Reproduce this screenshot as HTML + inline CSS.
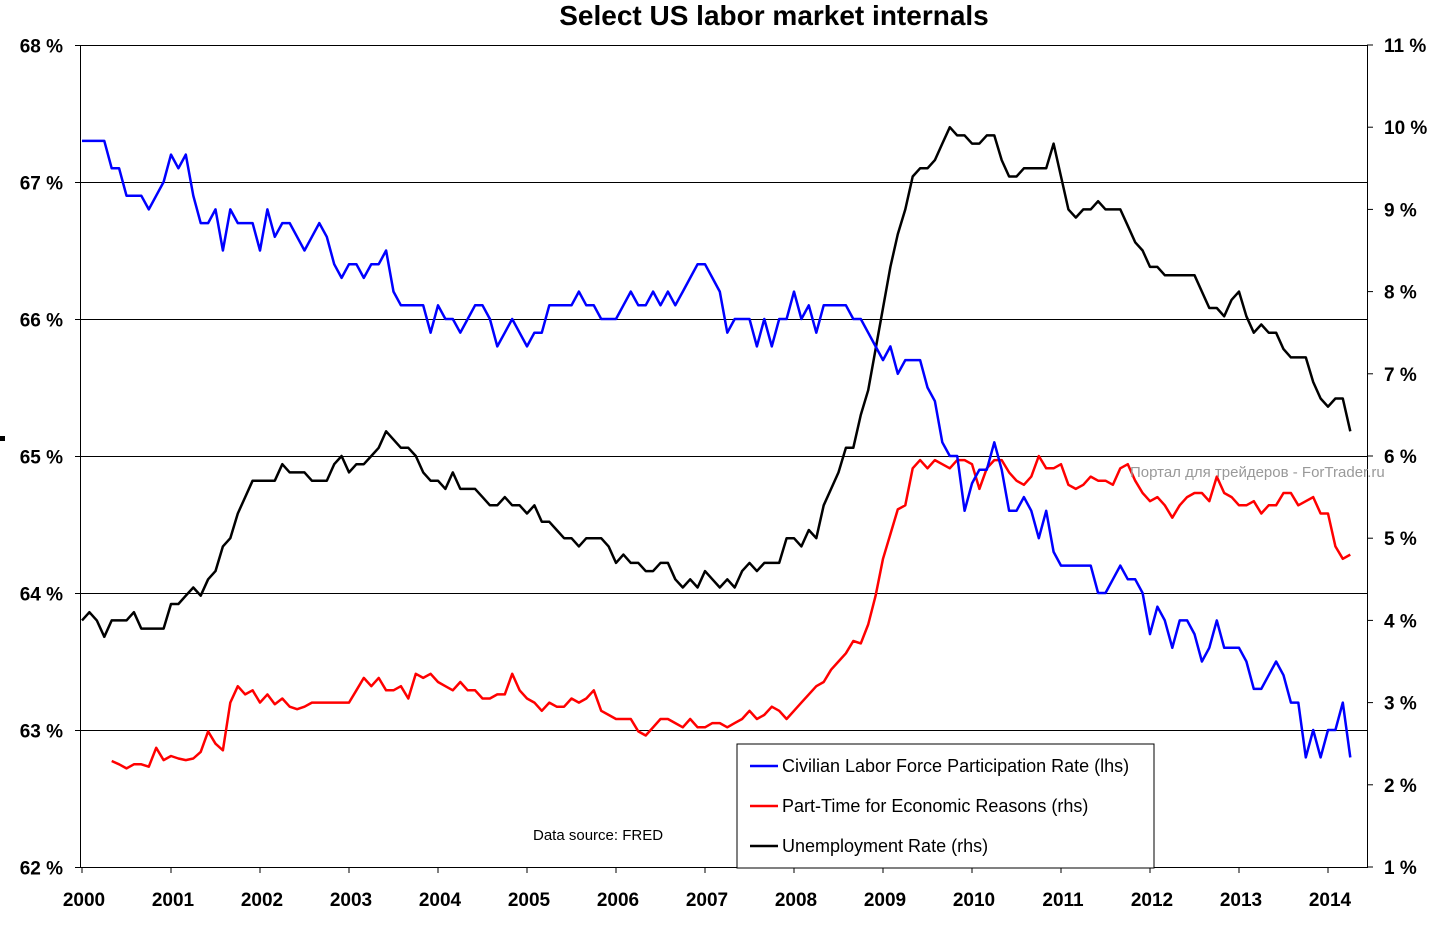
<!DOCTYPE html>
<html><head><meta charset="utf-8"><style>
body{margin:0;background:#fff;}
svg text{font-family:"Liberation Sans",Arial,sans-serif;}
</style></head><body>
<svg width="1446" height="922" xmlns="http://www.w3.org/2000/svg">
<g id="grid"></g>
<g id="axes"></g>
<g id="series"></g>
<text x="774" y="25" text-anchor="middle" font-size="28" font-weight="bold">Select US labor market internals</text>
<rect x="0" y="436" width="5" height="5" fill="#000"/>
<text x="1130" y="477" font-size="15" fill="#999">Портал для трейдеров - ForTrader.ru</text>
<text x="533" y="840" font-size="15">Data source: FRED</text>
<g>
<rect x="737" y="744" width="417" height="124" fill="#fff" stroke="#000" stroke-width="1"/>
<line x1="750" y1="766" x2="778" y2="766" stroke="#0000ff" stroke-width="2.5"/>
<text x="782" y="772" font-size="18">Civilian Labor Force Participation Rate (lhs)</text>
<line x1="750" y1="806" x2="778" y2="806" stroke="#ff0000" stroke-width="2.5"/>
<text x="782" y="812" font-size="18">Part-Time for Economic Reasons (rhs)</text>
<line x1="750" y1="846" x2="778" y2="846" stroke="#000" stroke-width="2.5"/>
<text x="782" y="852" font-size="18">Unemployment Rate (rhs)</text>
</g>
</svg>
<script>
const years=[2000,2001,2002,2003,2004,2005,2006,2007,2008,2009,2010,2011,2012,2013,2014];
const leftTicks=[62,63,64,65,66,67,68];
const rightTicks=[1,2,3,4,5,6,7,8,9,10,11];
const participation=[67.3,67.3,67.3,67.3,67.1,67.1,66.9,66.9,66.9,66.8,66.9,67.0,
67.2,67.1,67.2,66.9,66.7,66.7,66.8,66.5,66.8,66.7,66.7,66.7,
66.5,66.8,66.6,66.7,66.7,66.6,66.5,66.6,66.7,66.6,66.4,66.3,
66.4,66.4,66.3,66.4,66.4,66.5,66.2,66.1,66.1,66.1,66.1,65.9,
66.1,66.0,66.0,65.9,66.0,66.1,66.1,66.0,65.8,65.9,66.0,65.9,
65.8,65.9,65.9,66.1,66.1,66.1,66.1,66.2,66.1,66.1,66.0,66.0,
66.0,66.1,66.2,66.1,66.1,66.2,66.1,66.2,66.1,66.2,66.3,66.4,
66.4,66.3,66.2,65.9,66.0,66.0,66.0,65.8,66.0,65.8,66.0,66.0,
66.2,66.0,66.1,65.9,66.1,66.1,66.1,66.1,66.0,66.0,65.9,65.8,
65.7,65.8,65.6,65.7,65.7,65.7,65.5,65.4,65.1,65.0,65.0,64.6,
64.8,64.9,64.9,65.1,64.9,64.6,64.6,64.7,64.6,64.4,64.6,64.3,
64.2,64.2,64.2,64.2,64.2,64.0,64.0,64.1,64.2,64.1,64.1,64.0,
63.7,63.9,63.8,63.6,63.8,63.8,63.7,63.5,63.6,63.8,63.6,63.6,
63.6,63.5,63.3,63.3,63.4,63.5,63.4,63.2,63.2,62.8,63.0,62.8,
63.0,63.0,63.2,62.8];
const unemployment=[4.0,4.1,4.0,3.8,4.0,4.0,4.0,4.1,3.9,3.9,3.9,3.9,
4.2,4.2,4.3,4.4,4.3,4.5,4.6,4.9,5.0,5.3,5.5,5.7,
5.7,5.7,5.7,5.9,5.8,5.8,5.8,5.7,5.7,5.7,5.9,6.0,
5.8,5.9,5.9,6.0,6.1,6.3,6.2,6.1,6.1,6.0,5.8,5.7,
5.7,5.6,5.8,5.6,5.6,5.6,5.5,5.4,5.4,5.5,5.4,5.4,
5.3,5.4,5.2,5.2,5.1,5.0,5.0,4.9,5.0,5.0,5.0,4.9,
4.7,4.8,4.7,4.7,4.6,4.6,4.7,4.7,4.5,4.4,4.5,4.4,
4.6,4.5,4.4,4.5,4.4,4.6,4.7,4.6,4.7,4.7,4.7,5.0,
5.0,4.9,5.1,5.0,5.4,5.6,5.8,6.1,6.1,6.5,6.8,7.3,
7.8,8.3,8.7,9.0,9.4,9.5,9.5,9.6,9.8,10.0,9.9,9.9,
9.8,9.8,9.9,9.9,9.6,9.4,9.4,9.5,9.5,9.5,9.5,9.8,
9.4,9.0,8.9,9.0,9.0,9.1,9.0,9.0,9.0,8.8,8.6,8.5,
8.3,8.3,8.2,8.2,8.2,8.2,8.2,8.0,7.8,7.8,7.7,7.9,
8.0,7.7,7.5,7.6,7.5,7.5,7.3,7.2,7.2,7.2,6.9,6.7,
6.6,6.7,6.7,6.3];
const partTimeStart=4;
const partTime=[2.29,2.25,2.2,2.25,2.25,2.22,2.45,2.3,
2.35,2.32,2.3,2.32,2.4,2.65,2.5,2.42,3.0,3.2,3.1,3.15,
3.0,3.1,2.98,3.05,2.95,2.92,2.95,3.0,3.0,3.0,3.0,3.0,
3.0,3.15,3.3,3.2,3.3,3.15,3.15,3.2,3.05,3.35,3.3,3.35,
3.25,3.2,3.15,3.25,3.15,3.15,3.05,3.05,3.1,3.1,3.35,3.15,
3.05,3.0,2.9,3.0,2.95,2.95,3.05,3.0,3.05,3.15,2.9,2.85,
2.8,2.8,2.8,2.65,2.6,2.7,2.8,2.8,2.75,2.7,2.8,2.7,
2.7,2.75,2.75,2.7,2.75,2.8,2.9,2.8,2.85,2.95,2.9,2.8,
2.9,3.0,3.1,3.2,3.25,3.4,3.5,3.6,3.75,3.72,3.95,4.3,
4.75,5.05,5.35,5.4,5.85,5.95,5.85,5.95,5.9,5.85,5.95,5.95,
5.9,5.6,5.85,5.95,5.95,5.8,5.7,5.65,5.75,6.0,5.85,5.85,
5.9,5.65,5.6,5.65,5.75,5.7,5.7,5.65,5.85,5.9,5.7,5.55,
5.45,5.5,5.4,5.25,5.4,5.5,5.55,5.55,5.45,5.75,5.55,5.5,
5.4,5.4,5.45,5.3,5.4,5.4,5.55,5.55,5.4,5.45,5.5,5.3,
5.3,4.9,4.75,4.8];
const L=80,R=1367,T=45,B=867;
const xM=m=>82+m*89/12;
const yL=v=>B-(v-62)/6*(B-T);
const yR=v=>B-(v-1)/10*(B-T);
const NS='http://www.w3.org/2000/svg';
function mk(tag,attrs,parent,txt){const e=document.createElementNS(NS,tag);for(const k in attrs)e.setAttribute(k,attrs[k]);if(txt!==undefined)e.textContent=txt;parent.appendChild(e);return e;}
const grid=document.getElementById('grid'),axes=document.getElementById('axes'),ser=document.getElementById('series');
leftTicks.forEach(v=>{const y=Math.round(yL(v))+0.5;
 if(v>62&&v<68){const g=mk('line',{x1:L,x2:R,y1:y,y2:y,stroke:'#000','stroke-width':1},grid);
 
 }
 const t=mk('text',{x:63,y:y+7,'text-anchor':'end','font-size':19,'font-weight':'bold'},axes,v+' %');
 
 
 mk('line',{x1:L-5,x2:L,y1:y,y2:y,stroke:'#000'},axes);});
rightTicks.forEach(v=>{const y=yR(v);
 const t=mk('text',{x:1384,y:y+7,'font-size':19,'font-weight':'bold'},axes,v+' %');
 
 
 mk('line',{x1:R,x2:R+6,y1:y,y2:y,stroke:'#000'},axes);});
years.forEach((yr,i)=>{const x=xM(i*12);
 const t=mk('text',{x:x+2,y:906,'text-anchor':'middle','font-size':19,'font-weight':'bold'},axes,yr);
 
 
 mk('line',{x1:x,x2:x,y1:B,y2:B+6,stroke:'#000'},axes);});
const fr=mk('rect',{x:L+0.5,y:T+0.5,width:R-L,height:B-T,fill:'none',stroke:'#000','stroke-width':1},axes);


function line(arr,off,yf,col,name){const pts=arr.map((v,i)=>xM(i+off).toFixed(1)+','+yf(v).toFixed(1)).join(' ');
 const p=mk('polyline',{points:pts,fill:'none',stroke:col,'stroke-width':2.5,'stroke-linejoin':'round'},ser);
 
 }
line(partTime,partTimeStart,yR,'#ff0000','parttime-line');
line(unemployment,0,yR,'#000000','unemployment-line');
line(participation,0,yL,'#0000ff','participation-line');
</script>
</body></html>
